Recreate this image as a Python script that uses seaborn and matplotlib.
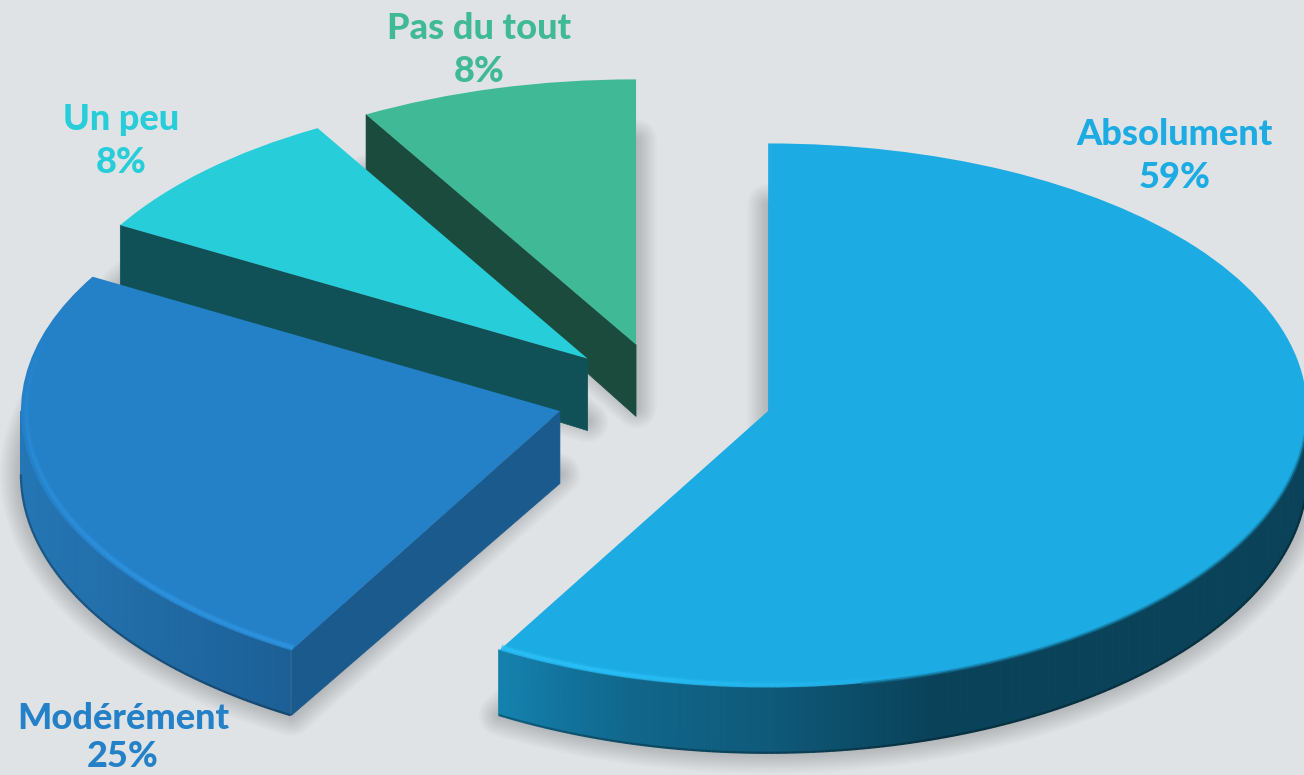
import numpy as np
import matplotlib
matplotlib.use('Agg')
import matplotlib.pyplot as plt
import seaborn as sns
from matplotlib.collections import PolyCollection, LineCollection
from matplotlib.colors import to_rgb

# valeurs
reponses = ['Absolument', 'Modérément', 'Un peu', 'Pas du tout']
parts = [58.3, 25.0, 8.35, 8.35]
pourcents = ['59%', '25%', '8%', '8%']
couleurs = ['#1CABE2', '#2480C7', '#27CDD8', '#40B996']
flancs = ['#0A4259', '#1B5A8C', '#0F5157', '#1B4B3C']

FOND = '#DFE3E6'
W, H = 1304, 775

sns.set_theme(style='white', rc={'figure.facecolor': FOND, 'savefig.facecolor': FOND})
plt.rcParams['font.family'] = ['Lato', 'DejaVu Sans']

fig = plt.figure(figsize=(W / 100, H / 100), dpi=100)
ax = fig.add_axes([0, 0, 1, 1])

wedges, _ = ax.pie(parts, colors=sns.color_palette(couleurs), explode=[0.2] * 4,
                   startangle=90, counterclock=False)
ax.set_aspect('auto')

# vue inclinée : l'échelle verticale écrase le disque, un peu plus loin que près
B, C, Y0 = 271.5, 4.5, 396.9
RX, CX = 539, 664


def vers_ecran(v):
    return B * np.asarray(v) - C * np.asarray(v) ** 2


def depuis_ecran(u):
    return (B - np.sqrt(B ** 2 - 4 * C * np.asarray(u))) / (2 * C)


ax.set_yscale('function', functions=(vers_ecran, depuis_ecran))
ax.set_xlim(-CX / RX, (W - CX) / RX)
ax.set_ylim(depuis_ecran(Y0 - H), depuis_ecran(Y0))
ax.axis('off')

EP = 0.232
EP_CENTRE = 0.265


def arc(w, a, b, n=120, r=1.0, dy=0.0):
    t = np.radians(np.linspace(a, b, n))
    return w.center[0] + w.r * r * np.cos(t), w.center[1] + w.r * r * np.sin(t) + dy


# ombres portées, floues
for i, w in enumerate(wedges):
    x, y = arc(w, w.theta1, w.theta2, dy=-EP)
    px = np.r_[w.center[0], x]
    py = np.r_[w.center[1] - EP, y]
    for lw in np.linspace(1, 30, 12):
        ax.fill(px, py, facecolor=(0, 0, 0, 0.014), edgecolor=(0, 0, 0, 0.014),
                lw=lw, joinstyle='round', zorder=1)


def flanc_arrondi(w, a, b, stops, z, n=160):
    x, y = arc(w, a, b, n + 1)
    palette = np.array(sns.blend_palette([c for _, c in stops], 400))
    pos = [p for p, _ in stops]
    quads, teintes = [], []
    for k in range(n):
        quads.append([(x[k], y[k]), (x[k + 1], y[k + 1]),
                      (x[k + 1], y[k + 1] - EP), (x[k], y[k] - EP)])
        xpix = (x[k] * RX + CX)
        f = np.interp(xpix, pos, np.linspace(0, 1, len(pos)))
        teintes.append(palette[int(f * 399)])
    ax.add_collection(PolyCollection(quads, facecolors=teintes, edgecolors=teintes,
                                     lw=0.6, zorder=z), autolim=False)
    # liseré sombre en bas
    sombre = [tuple(np.array(c) * 0.72) for c in teintes]
    seg = [[(x[k], y[k] - EP), (x[k + 1], y[k + 1] - EP)] for k in range(n)]
    ax.add_collection(LineCollection(seg, colors=sombre, lw=1.6, zorder=z + 0.1), autolim=False)


def liseré(w, a, b, teinte, z, n=120):
    # reflet clair sur l'arête du dessus : fort au coin, s'efface vers l'autre bout
    x, y = arc(w, a, b, n + 1, r=0.99)
    rgb = to_rgb(teinte)
    seg = [[(x[k], y[k]), (x[k + 1], y[k + 1])] for k in range(n)]
    alpha = np.clip(1.25 - 1.25 * np.linspace(0, 1, n), 0, 1)
    for lw, force in [(5, 0.3), (2.5, 0.75)]:
        cols = [(*rgb, a_ * force) for a_ in alpha]
        ax.add_collection(LineCollection(seg, colors=cols, lw=lw, zorder=z), autolim=False)


def face_droite(w, angle, teinte, z):
    x, y = arc(w, angle, angle, 2)
    ax.fill([w.center[0], x[0], x[0], w.center[0]],
            [w.center[1], y[0], y[0] - EP, w.center[1] - EP_CENTRE],
            color=teinte, lw=0.5, zorder=z)


# du fond vers l'avant
ordre = {3: 10, 2: 20, 1: 30, 0: 40}
for i, w in enumerate(wedges):
    z = ordre[i]
    w.set_zorder(z + 1)
    w.set_linewidth(0)
    if i > 0:
        face_droite(w, w.theta2, flancs[i], z)

flanc_arrondi(wedges[1], -180, -120, [(19, '#2476B4'), (291, '#1C5F96')], ordre[1])
flanc_arrondi(wedges[0], -120, 0,
              [(499, '#1481AD'), (620, '#11678C'), (760, '#0F5A7A'), (930, '#0A4259'), (1304, '#0A4259')],
              ordre[0])

liseré(wedges[1], -120, -205, '#2F95E2', ordre[1] + 2)
liseré(wedges[0], -120, -70, '#2BC2FA', ordre[0] + 2)

# arête adoucie entre le dessus et le flanc sombre
x, y = arc(wedges[0], -80, 0, 81)
seg = [[(x[k], y[k]), (x[k + 1], y[k + 1])] for k in range(80)]
ax.add_collection(LineCollection(seg, colors=[(0.07, 0.47, 0.62, 0.6)], lw=2.2,
                                 zorder=ordre[0] + 2), autolim=False)

# étiquettes : centre x, ligne de base y en pixels de l'image
places = [(1175, 145), (123, 729), (121, 130), (479, 39)]
for nom, pct, c, (xp, yp) in zip(reponses, pourcents, couleurs, places):
    fig.text(xp / W, 1 - yp / H, nom, color=c, fontsize=26, fontweight=900,
             ha='center', va='baseline', zorder=60)
    fig.text(xp / W, 1 - min(yp + 43, 767) / H, pct, color=c, fontsize=26, fontweight=900,
             ha='center', va='baseline', zorder=60)

fig.savefig('out.png', dpi=100, facecolor=FOND)
